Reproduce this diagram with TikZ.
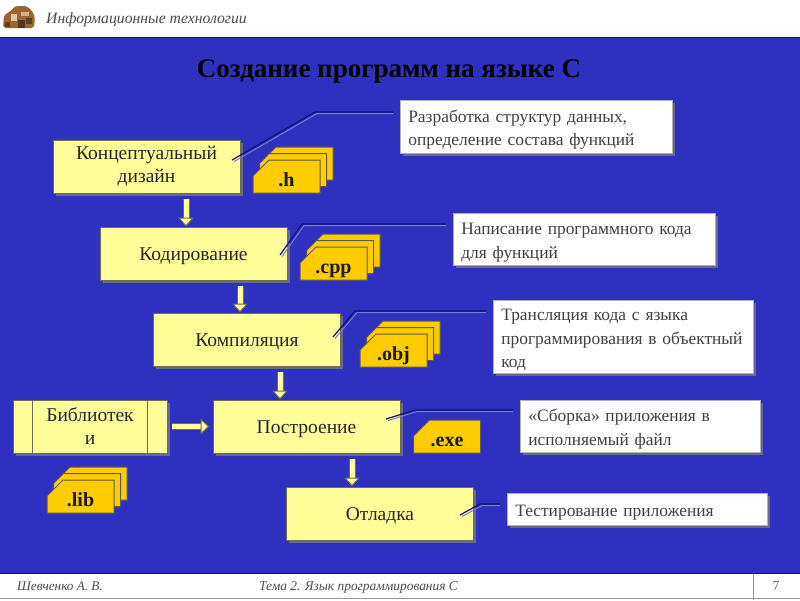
\documentclass[tikz,border=0pt]{standalone}
\usepackage{fontspec}
\setmainfont{Liberation Serif}
\usetikzlibrary{positioning}
\usetikzlibrary{calc}
\usetikzlibrary{shadows}
\usetikzlibrary{shapes.misc}
\usetikzlibrary{arrows.meta}
\definecolor{slideblue}{HTML}{3030C0}
\definecolor{boxyellow}{HTML}{FFFF99}
\definecolor{fileamber}{HTML}{FFCC00}
\definecolor{edgegray}{HTML}{6E6E50}
\definecolor{shadowgray}{HTML}{68688C}
\definecolor{leadnavy}{HTML}{101078}
\tikzset{
  stagebox/.style={draw=edgegray, line width=1pt, fill=boxyellow, minimum width=187pt, minimum height=53pt,
    align=center, font=\fontsize{19.5}{23}\selectfont, text=black!85,
    execute at begin node={\rule{0pt}{18pt}},
    drop shadow={shadow xshift=2.5pt, shadow yshift=-2.5pt, fill=shadowgray, opacity=1}},
  notebox/.style={draw=black!30, line width=.6pt, fill=white, align=left, text=black!75,
    font=\fontsize{17.4}{23.5}\selectfont, inner xsep=8pt, inner ysep=0pt, anchor=north west,
    execute at begin node={\rule{0pt}{18pt}},
    drop shadow={shadow xshift=2.5pt, shadow yshift=-2.5pt, fill=shadowgray, opacity=1}},
  filecard/.style={chamfered rectangle, chamfered rectangle corners=north west,
    chamfered rectangle xsep=11pt, chamfered rectangle ysep=6pt,
    draw=black!65, line width=1pt, fill=fileamber, minimum width=67pt, minimum height=33pt,
    inner sep=0pt, text height=20pt, text depth=0pt, font=\fontsize{20}{20}\selectfont\bfseries, text=black!90},
  flowarrow/.style={draw=edgegray, line width=1pt, double=boxyellow, double distance=5pt,
    -{Triangle[fill=boxyellow, length=9pt, width=16pt]}},
  leader/.style={draw=leadnavy, line width=1.2pt},
  leadglow/.style={draw=white!35!slideblue, line width=1pt},
}
\begin{document}
\begin{tikzpicture}[x=1pt, y=-1pt]
    % frame of the slide
    \useasboundingbox (0,0) rectangle (800,600);
    \fill[white] (0,0) rectangle (800,600);
    \fill[slideblue] (0,37) rectangle (800,573);
    \draw[leadnavy, line width=1pt] (0,37) -- (800,37);
    \draw[black!40, line width=1pt] (0,598.5) -- (800,598.5);
    \draw[black!40, line width=1pt] (753,573) -- (753,600);
    \draw[leadnavy, line width=1pt] (0,573) -- (800,573);

    % emblem in the header
    \fill[brown!80!black, rounded corners=3pt] (3,28) -- (4,15) -- (11,11) -- (15,6) -- (27,6) -- (33,12) -- (35,18) -- (34,28) -- cycle;
    \fill[brown!45!white] (11,14) rectangle (17,21);
    \fill[brown!60!white] (21,12) rectangle (29,16);
    \fill[brown!45!black] (18,20) rectangle (25,28);
    \fill[brown!50!black] (26,18) rectangle (32,24);
    \fill[brown!50!black] (5,22) rectangle (10,27);

    \node[font=\fontsize{15.7}{16}\selectfont\itshape, text=black!70, anchor=west, inner xsep=0pt] (header) at (46,19.5) {Информационные технологии};
    \node[font=\fontsize{13.2}{14}\selectfont\itshape, text=black!70, anchor=west, inner xsep=0pt] (author) at (17,586) {Шевченко А. В.};
    \node[font=\fontsize{13.4}{14}\selectfont\itshape, text=black!70, anchor=west, inner xsep=0pt] (topic) at (259,587) {Тема 2. Язык программирования С};
    \node[font=\fontsize{14}{14}\selectfont, text=black!60] (pageno) at (776,586) {7};

    \node[font=\fontsize{27}{27}\selectfont\bfseries, text=black] (title) at (389,71) {Создание программ на языке С};

    % stages
    \node[stagebox, execute at begin node={\rule{0pt}{22pt}}] (concept) at (146.5,166.5) {Концептуальный\\дизайн};
    \node[stagebox] (coding) at (193.5,253.5) {Кодирование};
    \node[stagebox] (compile) at (247,339.5) {Компиляция};
    \node[stagebox] (build) at (306.5,426.5) {Построение};
    \node[stagebox] (debug) at (380,513.5) {Отладка};
    \node[stagebox, minimum width=154pt, execute at begin node={\rule{0pt}{20pt}}] (libs) at (90,426.5) {Библиотек\\и};
    \draw[edgegray, line width=1pt] ([xshift=20pt]libs.north west) -- ([xshift=20pt]libs.south west);
    \draw[edgegray, line width=1pt] ([xshift=-20pt]libs.north east) -- ([xshift=-20pt]libs.south east);

    % arrows between stages
    \draw[flowarrow] ([xshift=39.5pt,yshift=-5pt]concept.south) -- ([xshift=-7.5pt]coding.north);
    \draw[flowarrow] ([xshift=46.5pt,yshift=-5pt]coding.south) -- ([xshift=-7pt]compile.north);
    \draw[flowarrow] ([xshift=33pt,yshift=-5pt]compile.south) -- ([xshift=-26.5pt]build.north);
    \draw[flowarrow] ([xshift=45.5pt,yshift=-5pt]build.south) -- ([xshift=-28pt]debug.north);
    \draw[flowarrow] ([xshift=4pt]libs.east) -- ([xshift=-3pt]build.west);

    % file cards
    \foreach \px/\py/\nm/\ext in {253/160/h/.h, 300/247/cpp/.cpp, 360/334/obj/.obj, 47/480/lib/.lib} {
      \node[filecard] (\nm back) at (\px+46.5,\py+3.5) {};
      \node[filecard] (\nm mid) at (\px+40,\py+10) {};
      \node[filecard] (\nm) at (\px+33.5,\py+16.5) {\ext};
    }
    \node[filecard] (exe) at (447,436.5) {.exe};

    % notes
    \node[notebox, minimum width=272pt, minimum height=53pt, text width=256pt] (noteA) at (400,100) {Разработка структур данных,\\определение состава функций};
    \node[notebox, minimum width=262pt, minimum height=52pt, text width=246pt] (noteB) at (453,213) {Написание программного кода\\для функций};
    \node[notebox, minimum width=260pt, minimum height=73pt, text width=244pt] (noteC) at (493,300) {Трансляция кода с языка\\программирования в объектный\\код};
    \node[notebox, minimum width=240pt, minimum height=52pt, text width=224pt, execute at begin node={}] (noteD) at (520,400) {«Сборка» приложения в\\исполняемый файл};
    \node[notebox, minimum width=260pt, minimum height=32pt, text width=244pt, execute at begin node={\rule{0pt}{15pt}}] (noteE) at (507,493) {Тестирование приложения};

    % leader lines
    \coordinate (leadA) at (232,160);
    \coordinate (leadB) at (280,255);
    \coordinate (leadC) at (333,337);
    \coordinate (leadD) at (386,419);
    \coordinate (leadE) at (460,515);
    \coordinate (kneeA) at (315,112);
    \coordinate (kneeB) at (302,224);
    \coordinate (kneeC) at (355,311);
    \coordinate (kneeD) at (415,410);
    \coordinate (kneeE) at (480,504);
    \foreach \a/\n in {A/noteA, B/noteB, C/noteC, D/noteD, E/noteE} {
      \draw[leadglow] ([xshift=2pt,yshift=-1.5pt]lead\a) -- ([xshift=2pt,yshift=-1.5pt]knee\a) -- ([xshift=-7pt,yshift=-1.5pt]knee\a -| \n.west);
      \draw[leader] (lead\a) -- (knee\a) -- ([xshift=-7pt]knee\a -| \n.west);
    }
\end{tikzpicture}
\end{document}
